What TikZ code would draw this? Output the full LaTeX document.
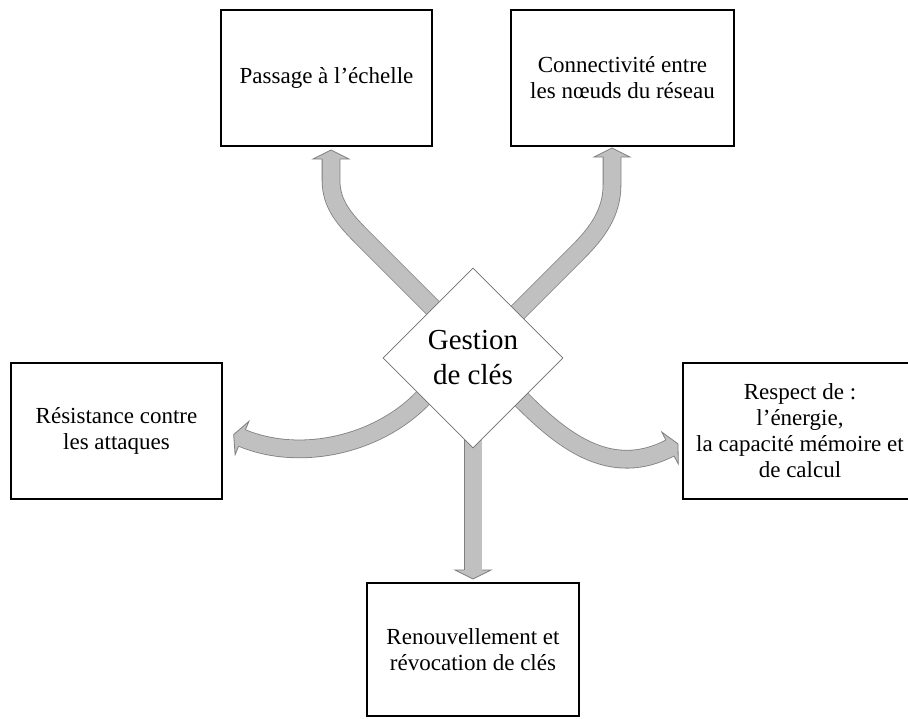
\documentclass[tikz,border=0pt]{standalone}
\usepackage{fontspec}
\setmainfont{Liberation Serif}
\usetikzlibrary{shapes.geometric,decorations.markings}
\definecolor{arrfill}{HTML}{C0C0C0}
\definecolor{arrline}{HTML}{7F7F7F}
\definecolor{dmline}{HTML}{6E6E6E}
\begin{document}
\begin{tikzpicture}[x=1pt,y=-1pt,
  box/.style={draw=black, line width=1.8pt, fill=white, inner sep=0pt, align=center,
    font=\fontsize{23}{26}\selectfont},
  blockarrow/.style={double=arrfill, double distance=17pt, line width=0.8pt, draw=arrline,
    postaction={decorate, decoration={markings, mark=at position 1 with {
      \fill[arrfill] (0,-18)--(9,0)--(0,18)--cycle;
      \draw[arrline, line width=0.8pt, line join=miter] (0,-9)--(0,-18)--(9,0)--(0,18)--(0,9);}}}},
]
\clip (0,0) rectangle (908,718);
\fill[white] (0,0) rectangle (908,718);

% arrows
\coordinate (tls) at (450,325);
\coordinate (tle) at (331,159);
\coordinate (trs) at (495,335);
\coordinate (tre) at (612,157);
\coordinate (ls) at (440,381);
\coordinate (le) at (242,438);
\coordinate (rs) at (505,383);
\coordinate (re) at (670,448);
\coordinate (bs) at (473,440);
\coordinate (be) at (473,570);

\draw[blockarrow] (tls) -- (365,240) .. controls (345,220) and (331,205) .. (331,180) -- (tle);
\draw[blockarrow] (trs) -- (578,252) .. controls (598,232) and (612,212) .. (612,185) -- (tre);
\draw[blockarrow] (ls) -- (421,400) .. controls (376,445) and (300,462) .. (le);
\draw[blockarrow] (rs) -- (523,401) .. controls (565,443) and (612,478) .. (re);
\draw[blockarrow] (bs) -- (be);

% centre diamond
\node[diamond, draw=dmline, line width=0.7pt, fill=white, aspect=1,
  minimum width=180pt, minimum height=180pt, inner sep=0pt, align=center,
  font=\fontsize{29}{35}\selectfont] (g) at (473,358) {Gestion\\de clés};

% boxes
\node[box, minimum width=211pt, minimum height=136pt] (tl) at (326.5,78) {Passage à l’échelle};
\node[box, minimum width=223pt, minimum height=136pt] (tr) at (622.5,78) {Connectivité entre\\les nœuds du réseau};
\node[box, minimum width=211pt, minimum height=136pt] (l) at (116.5,431) {Résistance contre\\les attaques};
\node[box, minimum width=234pt, minimum height=136pt] (r) at (800,431) {Respect de :\\l’énergie,\\la capacité mémoire et\\de calcul};
\node[box, minimum width=212pt, minimum height=133pt] (b) at (473,649.5) {Renouvellement et\\révocation de clés};
\end{tikzpicture}
\end{document}
